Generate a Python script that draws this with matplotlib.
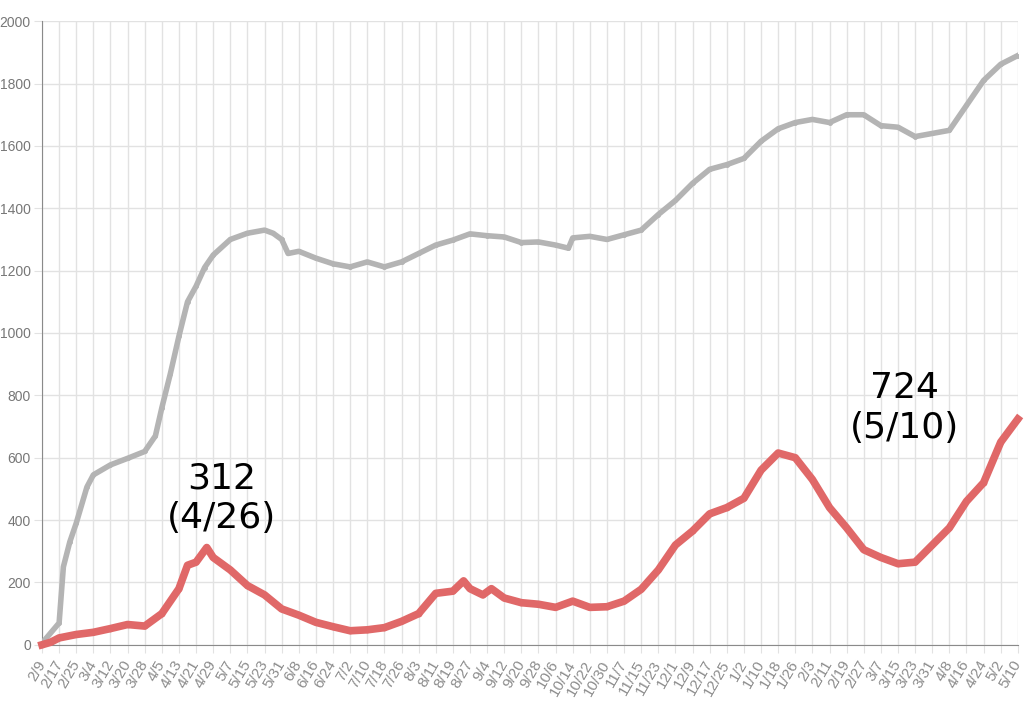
import matplotlib
matplotlib.use('Agg')
import matplotlib.pyplot as plt
import pandas as pd

# gray series (upper line)
gray_dates = ['2020-02-09', '2020-02-17', '2020-02-19', '2020-02-22', '2020-02-25', '2020-03-01',
              '2020-03-04', '2020-03-12', '2020-03-20', '2020-03-28', '2020-04-02', '2020-04-05',
              '2020-04-09', '2020-04-13', '2020-04-17', '2020-04-21', '2020-04-25', '2020-04-29',
              '2020-05-07', '2020-05-15', '2020-05-23', '2020-05-27', '2020-05-31', '2020-06-03',
              '2020-06-08', '2020-06-16', '2020-06-24', '2020-07-02', '2020-07-10', '2020-07-18',
              '2020-07-26', '2020-08-03', '2020-08-11', '2020-08-19', '2020-08-27', '2020-09-04',
              '2020-09-12', '2020-09-20', '2020-09-28', '2020-10-06', '2020-10-12', '2020-10-14',
              '2020-10-22', '2020-10-30', '2020-11-07', '2020-11-15', '2020-11-23', '2020-12-01',
              '2020-12-09', '2020-12-17', '2020-12-25', '2021-01-02', '2021-01-10', '2021-01-18',
              '2021-01-26', '2021-02-03', '2021-02-11', '2021-02-19', '2021-02-27', '2021-03-07',
              '2021-03-15', '2021-03-23', '2021-03-31', '2021-04-08', '2021-04-16', '2021-04-24',
              '2021-05-02', '2021-05-10']
gray_vals = [5, 70, 250, 330, 390, 506,
             545, 577, 598, 620, 670, 760,
             870, 990, 1100, 1150, 1210, 1250,
             1300, 1320, 1330, 1320, 1300, 1255,
             1262, 1240, 1222, 1212, 1228, 1212,
             1228, 1255, 1282, 1298, 1318, 1312,
             1308, 1290, 1292, 1282, 1272, 1305,
             1310, 1300, 1315, 1330, 1380, 1425,
             1480, 1525, 1540, 1560, 1615, 1655,
             1675, 1685, 1675, 1700, 1700, 1665,
             1660, 1630, 1640, 1650, 1730, 1810,
             1862, 1890]

# red series (lower line)
red_dates = ['2020-02-09', '2020-02-13', '2020-02-17', '2020-02-25', '2020-03-04', '2020-03-12',
             '2020-03-20', '2020-03-28', '2020-04-05', '2020-04-13', '2020-04-17', '2020-04-21',
             '2020-04-26', '2020-04-29', '2020-05-07', '2020-05-15', '2020-05-23', '2020-05-31',
             '2020-06-08', '2020-06-16', '2020-06-24', '2020-07-02', '2020-07-10', '2020-07-18',
             '2020-07-26', '2020-08-03', '2020-08-11', '2020-08-19', '2020-08-24', '2020-08-27',
             '2020-09-02', '2020-09-06', '2020-09-12', '2020-09-20', '2020-09-28', '2020-10-06',
             '2020-10-14', '2020-10-22', '2020-10-30', '2020-11-07', '2020-11-15', '2020-11-23',
             '2020-12-01', '2020-12-09', '2020-12-17', '2020-12-25', '2021-01-02', '2021-01-10',
             '2021-01-18', '2021-01-26', '2021-02-03', '2021-02-11', '2021-02-19', '2021-02-27',
             '2021-03-07', '2021-03-15', '2021-03-23', '2021-03-31', '2021-04-08', '2021-04-16',
             '2021-04-24', '2021-05-02', '2021-05-10']
red_vals = [0, 8, 22, 33, 40, 52,
            65, 60, 100, 180, 255, 265,
            312, 280, 240, 190, 160, 115,
            95, 72, 58, 45, 48, 55,
            75, 100, 165, 172, 205, 180,
            160, 180, 150, 135, 130, 120,
            140, 120, 122, 140, 178, 240,
            320, 365, 420, 440, 470, 560,
            615, 600, 530, 440, 375, 305,
            280, 260, 265, 320, 375, 460,
            520, 650, 724]

ann_texts = ['312\n(4/26)', '724\n(5/10)']
ann_pos = [('2020-05-03', 470), ('2021-03-18', 760)]

tick_dates = pd.date_range('2020-02-09', '2021-05-10', freq='8D')
tick_labels = [f'{d.month}/{d.day}' for d in tick_dates]

fig = plt.figure(figsize=(10.24, 7.07), dpi=100)
ax = fig.add_axes([0.041, 0.088, 0.953, 0.882])

ax.plot(pd.to_datetime(gray_dates), gray_vals, color='#b4b4b4', linewidth=4,
        marker='o', markersize=2.5, zorder=3)
ax.plot(pd.to_datetime(red_dates), red_vals, color='#e06868', linewidth=5.5,
        marker='o', markersize=3, zorder=4, clip_on=False)

for txt, (d, v) in zip(ann_texts, ann_pos):
    ax.text(pd.Timestamp(d), v, txt, ha='center', va='center', fontsize=26,
            family='DejaVu Sans', linespacing=1.2, zorder=5)

ax.set_xlim(tick_dates[0], tick_dates[-1])
ax.set_ylim(0, 2000)
ax.set_yticks(range(0, 2001, 200))
ax.set_xticks(tick_dates)
ax.set_xticklabels(tick_labels, rotation=60, ha='right', va='center', rotation_mode='anchor')

lab_font = ['Liberation Sans Narrow', 'Liberation Sans', 'DejaVu Sans']
for lab in ax.get_yticklabels():
    lab.set_family(lab_font)
    lab.set_color('#777777')
    lab.set_fontsize(10)
for lab in ax.get_xticklabels():
    lab.set_family(lab_font)
    lab.set_color('#8c8c8c')
    lab.set_fontsize(11)

ax.grid(True, color='#e2e2e2', linewidth=1)
ax.set_axisbelow(True)
ax.tick_params(axis='y', length=6, color='#e2e2e2', pad=2)
ax.tick_params(axis='x', length=6, color='#e2e2e2', pad=6)
for s in ['top', 'right']:
    ax.spines[s].set_visible(False)
for s in ['left', 'bottom']:
    ax.spines[s].set_color('#8a8a8a')

fig.savefig('out.png', dpi=100)
